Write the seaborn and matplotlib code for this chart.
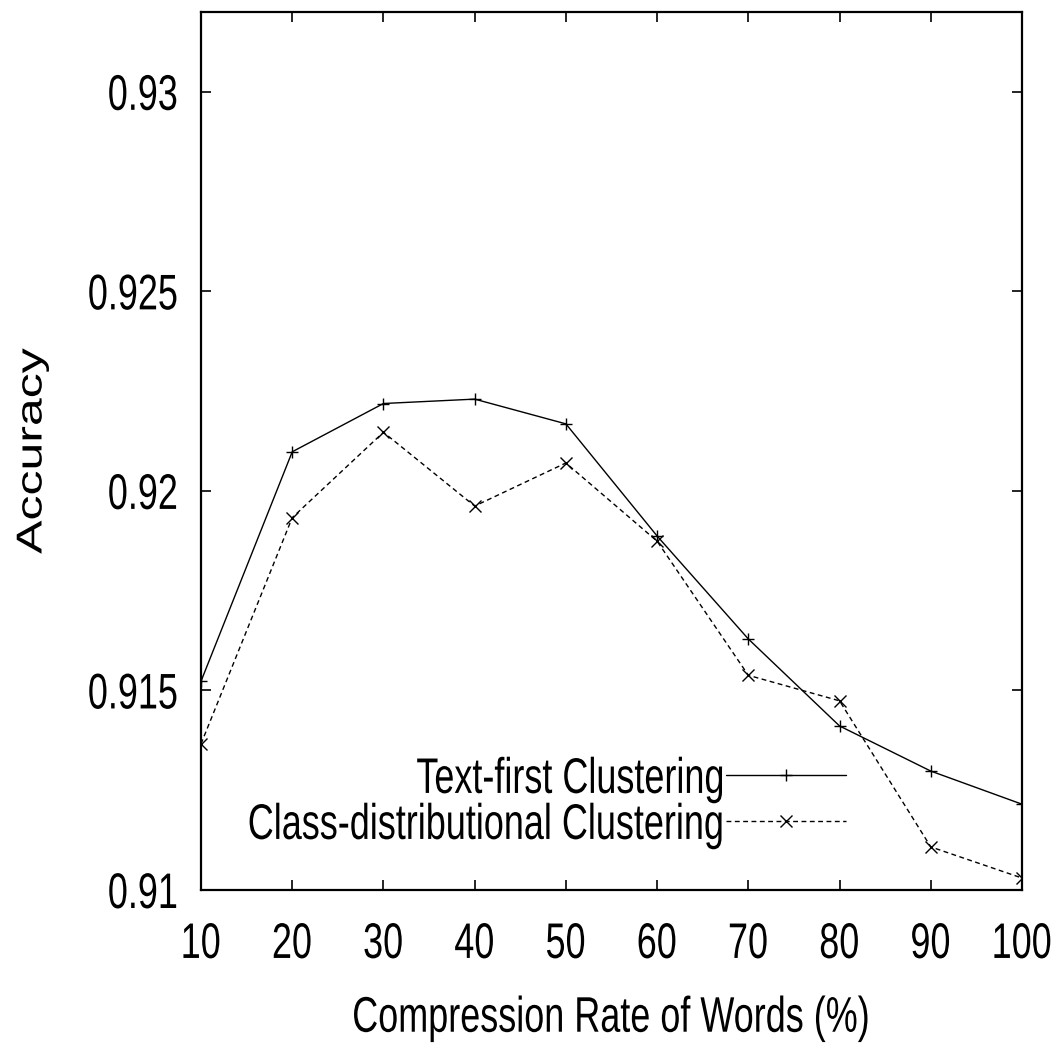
import matplotlib
matplotlib.use("Agg")
import matplotlib.pyplot as plt
import seaborn as sns
import pandas as pd
from matplotlib.patheffects import AbstractPathEffect
from matplotlib.transforms import Affine2D

compression_rate = [10, 20, 30, 40, 50, 60, 70, 80, 90, 100]
text_first = [0.91523, 0.92098, 0.92219, 0.92230, 0.92168,
              0.91887, 0.91629, 0.91411, 0.91298, 0.91215]
class_distributional = [0.91366, 0.91933, 0.92147, 0.91962, 0.92070,
                        0.91874, 0.91538, 0.91474, 0.91108, 0.91030]
series_names = ["Text-first Clustering", "Class-distributional Clustering"]
y_ticks = [0.91, 0.915, 0.92, 0.925, 0.93]
y_tick_labels = ["0.91", "0.915", "0.92", "0.925", "0.93"]


class Condensed(AbstractPathEffect):
    """Scale glyph outlines (narrow face look) about a chosen edge of the ink."""

    def __init__(self, sx=1.0, sy=1.0, anchor="center"):
        super().__init__()
        self.sx, self.sy, self.anchor = sx, sy, anchor

    def draw_path(self, renderer, gc, tpath, affine, rgbFace=None):
        v = tpath.vertices
        if len(v):
            x0, x1 = v[:, 0].min(), v[:, 0].max()
            y0, y1 = v[:, 1].min(), v[:, 1].max()
            px = {"left": x0, "right": x1}.get(self.anchor, 0.5 * (x0 + x1))
            py = 0.5 * (y0 + y1)
            t = (Affine2D().translate(-px, -py).scale(self.sx, self.sy)
                 .translate(px, py))
            tpath = t.transform_path(tpath)
        renderer.draw_path(gc, tpath, affine, rgbFace)


df = pd.DataFrame({
    "rate": compression_rate * 2,
    "acc": text_first + class_distributional,
    "method": [series_names[0]] * len(text_first) + [series_names[1]] * len(class_distributional),
})

sns.set_style("ticks")
plt.rcParams["font.family"] = ["Liberation Sans", "DejaVu Sans"]
plt.rcParams["text.color"] = "black"
plt.rcParams["axes.labelcolor"] = "black"
plt.rcParams["xtick.color"] = "black"
plt.rcParams["ytick.color"] = "black"

FS = 36
SQ = 0.72

fig = plt.figure(figsize=(10.63, 10.52), dpi=100)
ax = fig.add_axes([201 / 1063, 1 - 890 / 1052, 821 / 1063, 878 / 1052])

sns.lineplot(data=df, x="rate", y="acc", hue="method", style="method",
             hue_order=series_names, style_order=series_names,
             palette=["black", "black"], dashes=[(None, None), (3.5, 2.5)],
             markers=["+", "x"], markersize=9, markeredgewidth=1.0,
             markeredgecolor="black", linewidth=1.0, ax=ax, legend=False)

ax.set_xlim(10, 100)
ax.set_ylim(0.91, 0.932)
ax.set_xticks(compression_rate)
ax.set_xticklabels([str(v) for v in compression_rate])
ax.set_yticks(y_ticks)
ax.set_yticklabels(y_tick_labels)
ax.tick_params(direction="in", length=7.2, width=1.2, labelsize=FS,
               top=True, right=True)
ax.tick_params(axis="x", pad=23)
ax.tick_params(axis="y", pad=16)
for s in ax.spines.values():
    s.set_linewidth(1.6)
    s.set_visible(True)
    s.set_color("black")

ax.set_xlabel("Compression Rate of Words (%)", fontsize=FS, labelpad=20)
ax.set_ylabel("Accuracy", fontsize=FS)
ax.yaxis.set_label_coords(-0.178, 0.5)

handles = ax.get_lines()[:2]
leg = ax.legend(handles, series_names, loc="lower right", frameon=False,
                markerfirst=False, fontsize=FS, handlelength=2.4,
                bbox_to_anchor=(0.8095, 0.024), labelspacing=0.0,
                handletextpad=0.0, borderaxespad=0)

fig.canvas.draw()
for lbl in ax.get_yticklabels():
    lbl.set_path_effects([Condensed(SQ, 1.0, "right")])
for lbl in ax.get_xticklabels():
    lbl.set_path_effects([Condensed(SQ, 1.0, "center")])
for txt in leg.get_texts():
    txt.set_path_effects([Condensed(SQ, 1.0, "right")])
ax.xaxis.label.set_path_effects([Condensed(SQ, 1.0, "center")])
ax.yaxis.label.set_path_effects([Condensed(1.0, SQ, "center")])

fig.savefig("out.png", dpi=100)
